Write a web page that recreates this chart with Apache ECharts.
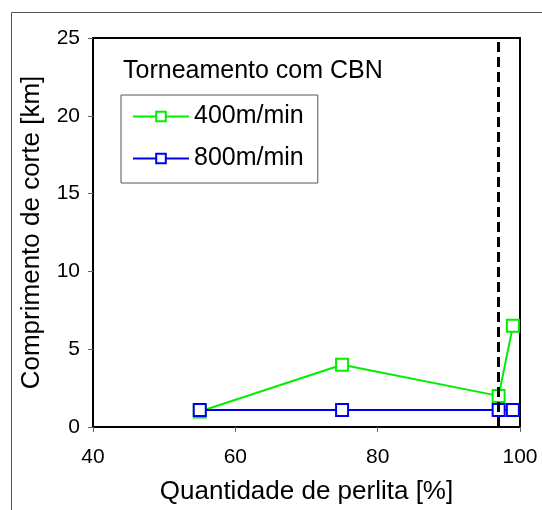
<!DOCTYPE html>
<html>
<head>
<meta charset="utf-8">
<script src="https://cdn.jsdelivr.net/npm/echarts@6/dist/echarts.min.js"></script>
<style>
html,body{margin:0;padding:0;background:#fff;}
#chart{width:542px;height:510px;}
</style>
</head>
<body>
<div id="chart"></div>
<script>
// dados
var perlita=[55,75,97,99];
var v400=[1.0,4.0,2.0,6.5];
var v800=[1.1,1.1,1.1,1.1];
var limite=97;

function pares(xs,ys){
    var out=[];
    for(var i=0;i<xs.length;i++){
        out.push([xs[i],ys[i]]);
    }
    return out;
}

var font='"Liberation Sans", Arial, sans-serif';
var myChart=echarts.init(document.getElementById('chart'));

var option={
    animation:false,
    textStyle:{fontFamily:font},
    graphic:[{
        type:'rect',
        shape:{x:11.5,y:12.5,width:540,height:510},
        style:{fill:'none',stroke:'#555',lineWidth:1}
    }],
    title:{
        text:'Torneamento com CBN',
        left:118,
        top:54,
        textStyle:{fontFamily:font,fontSize:25,fontWeight:'normal',color:'#000'}
    },
    legend:{
        orient:'vertical',
        left:121,
        top:95,
        padding:[9,14,12,11],
        itemGap:17,
        itemWidth:56,
        itemHeight:12,
        borderColor:'#555',
        borderWidth:1,
        textStyle:{fontFamily:font,fontSize:25,color:'#000',lineHeight:25},
        data:['400m/min','800m/min']
    },
    grid:{
        left:93,
        right:22,
        top:38,
        bottom:81,
        show:true,
        borderColor:'#000',
        borderWidth:2
    },
    xAxis:{
        type:'value',
        min:40,
        max:100,
        interval:20,
        name:'Quantidade de perlita [%]',
        nameLocation:'middle',
        nameGap:52,
        nameTextStyle:{fontFamily:font,fontSize:26,color:'#000'},
        axisLine:{show:true,onZero:false,lineStyle:{color:'#000',width:2}},
        axisTick:{show:true,length:5,lineStyle:{color:'#666'}},
        axisLabel:{fontFamily:font,fontSize:21,color:'#000',margin:20},
        splitLine:{show:false}
    },
    yAxis:{
        type:'value',
        min:0,
        max:25,
        interval:5,
        name:'Comprimento de corte [km]',
        nameLocation:'middle',
        nameGap:48,
        nameTextStyle:{fontFamily:font,fontSize:26,color:'#000'},
        axisLine:{show:true,lineStyle:{color:'#000',width:2}},
        axisTick:{show:true,length:5,lineStyle:{color:'#666'}},
        axisLabel:{fontFamily:font,fontSize:21,color:'#000',margin:13},
        splitLine:{show:false}
    },
    series:[{
        name:'400m/min',
        type:'line',
        data:pares(perlita,v400),
        symbol:'rect',
        symbolSize:12,
        z:2,
        lineStyle:{color:'#00ee00',width:2},
        itemStyle:{color:'#fff',borderColor:'#00ee00',borderWidth:2},
        markLine:{
            silent:true,
            symbol:'none',
            label:{show:false},
            lineStyle:{color:'#000',type:[10,5],width:3},
            data:[{xAxis:limite}]
        }
    },{
        name:'800m/min',
        type:'line',
        data:pares(perlita,v800),
        symbol:'rect',
        symbolSize:12,
        z:3,
        lineStyle:{color:'#0000ee',width:2},
        itemStyle:{color:'#fff',borderColor:'#0000ee',borderWidth:2}
    }]
};

myChart.setOption(option);
</script>
</body>
</html>
